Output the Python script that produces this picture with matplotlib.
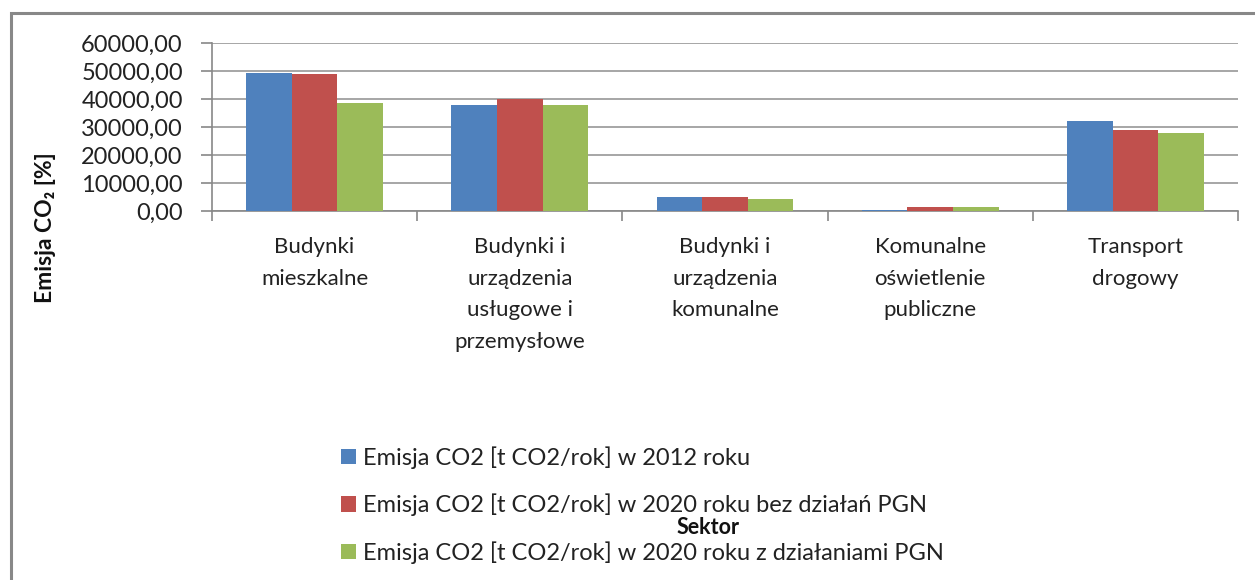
import matplotlib
matplotlib.use("Agg")
import matplotlib.pyplot as plt
import numpy as np
from matplotlib.patches import Rectangle, Patch

categories = ["Budynki\nmieszkalne",
              "Budynki i\nurządzenia\nusługowe i\nprzemysłowe",
              "Budynki i\nurządzenia\nkomunalne",
              "Komunalne\noświetlenie\npubliczne",
              "Transport\ndrogowy"]
series_names = ["Emisja CO2 [t CO2/rok] w 2012 roku",
                "Emisja CO2 [t CO2/rok] w 2020 roku bez działań PGN",
                "Emisja CO2 [t CO2/rok] w 2020 roku z działaniami PGN"]
v2012 = [49400, 38000, 5000, 470, 32000]
v2020_bez = [49000, 40000, 5000, 1320, 28800]
v2020_z = [38400, 38000, 4400, 1320, 27900]
yticks = [0, 10000, 20000, 30000, 40000, 50000, 60000]
ytick_labels = ["0,00", "10000,00", "20000,00", "30000,00", "40000,00", "50000,00", "60000,00"]

colors = ["#4F81BD", "#C0504D", "#9BBB59"]
FONT = ["Lato", "DejaVu Sans"]
plt.rcParams['font.family'] = FONT

W, H = 1255, 580
fig = plt.figure(figsize=(W/100, H/100), dpi=100)
fig.patches.append(Rectangle((11/W, -0.1), 1.2, 1 - 13/H + 0.1, transform=fig.transFigure,
                             fill=False, edgecolor="#888888", linewidth=2.2))

ax = fig.add_axes([212/W, 1 - 211/H, (1238-212)/W, (211-43)/H])
x = np.arange(len(categories))
bw = 1/4.5
for i, (vals, c) in enumerate(zip([v2012, v2020_bez, v2020_z], colors)):
    ax.bar(x + (i-1)*bw, vals, width=bw, color=c, zorder=3)

ax.set_xlim(-0.5, len(categories)-0.5)
ax.set_ylim(0, 60000)
ax.set_yticks(yticks)
ax.set_yticklabels(ytick_labels, fontsize=17, color="#222222")
ax.yaxis.grid(True, color="#A6A6A6", linewidth=1.4, zorder=0)
ax.set_axisbelow(True)
ax.set_xticks(x)
ax.set_xticklabels(categories, fontsize=16, color="#222222", linespacing=1.72, va="top")
ax.set_xticks(np.arange(-0.5, len(categories), 1), minor=True)
ax.tick_params(axis="x", which="major", length=0, pad=19)
ax.tick_params(axis="x", which="minor", length=7, color="#888888", width=1.2)
ax.tick_params(axis="y", length=8, color="#888888", width=1.2, pad=13)
for s in ["top", "right"]:
    ax.spines[s].set_visible(False)
for s in ["left", "bottom"]:
    ax.spines[s].set_color("#888888")
    ax.spines[s].set_linewidth(1.2)

fig.text(45/W, 1 - 228/H, "Emisja CO₂ [%]", rotation=90, ha="center", va="center",
         fontsize=16.5, fontweight="bold", color="#111111")
fig.text(708/W, 1 - 528/H, "Sektor", ha="center", va="center",
         fontsize=15.5, fontweight="bold", color="#111111")

handles = [Patch(facecolor=c, edgecolor="none") for c in colors]
fig.legend(handles, series_names, loc="center left", bbox_to_anchor=(329/W, 1 - 505/H),
           frameon=False, fontsize=17, handlelength=0.65, handleheight=0.65,
           handletextpad=0.3, labelspacing=1.05, borderpad=0, labelcolor="#222222")

fig.savefig("out.png", dpi=100)
